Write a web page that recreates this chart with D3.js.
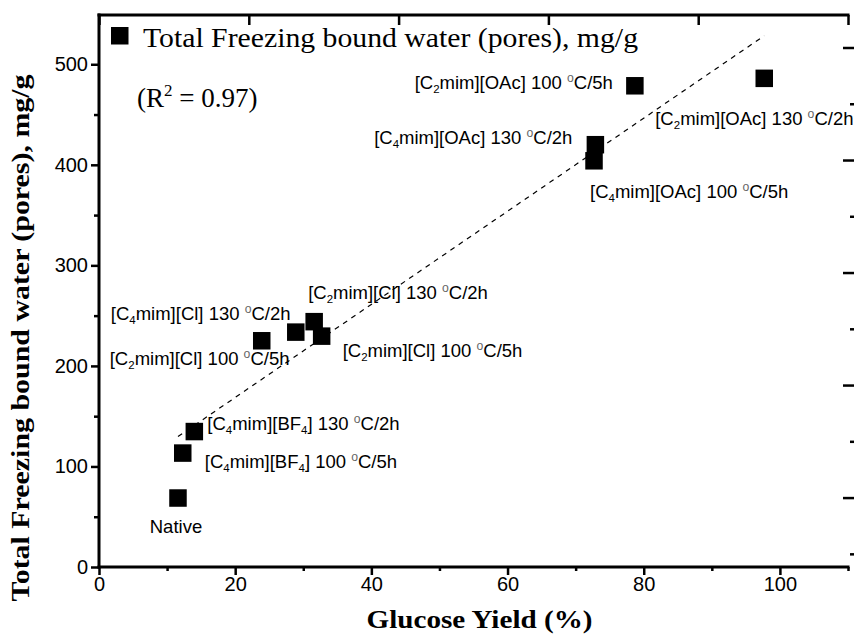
<!DOCTYPE html>
<html>
<head>
<meta charset="utf-8">
<script src="https://cdn.jsdelivr.net/npm/d3@7"></script>
<style>
  body { margin: 0; background: #fff; }
</style>
</head>
<body>
<svg id="chart" width="854" height="635"></svg>
<script>
// Values
var samples = [
    "Native",
    "[C_4mim][BF_4] 100 ^oC/5h",
    "[C_4mim][BF_4] 130 ^oC/2h",
    "[C_2mim][Cl] 100 ^oC/5h",
    "[C_4mim][Cl] 130 ^oC/2h",
    "[C_2mim][Cl] 130 ^oC/2h",
    "[C_2mim][Cl] 100 ^oC/5h",
    "[C_4mim][OAc] 100 ^oC/5h",
    "[C_4mim][OAc] 130 ^oC/2h",
    "[C_2mim][OAc] 100 ^oC/5h",
    "[C_2mim][OAc] 130 ^oC/2h"
];
var glucoseYield = [11.6, 12.3, 14.0, 23.9, 28.9, 31.6, 32.7, 72.7, 72.9, 78.7, 97.7];
var boundWater = [68.6, 113.3, 134.7, 225, 233.6, 244, 229.6, 404, 420, 478.6, 486];

// linear fit drawn in the figure (R^2 = 0.97)
var fitIntercept = 76;
var fitSlope = 4.63;

var xTicks = [0, 20, 40, 60, 80, 100];
var xMinorTicks = [10, 30, 50, 70, 90, 110];
var yTicks = [0, 100, 200, 300, 400, 500];
var yMinorTicks = [50, 150, 250, 350, 450];
var topTicks = [0, 10, 20, 30, 40, 50];
var rightTicks = [10, 20, 30, 40, 50, 60, 70, 80, 90, 100];

var legendText = "Total Freezing bound water (pores), mg/g";
var xTitle = "Glucose Yield (%)";
var yTitle = "Total Freezing bound water (pores), mg/g";

// label placement relative to each point (px)
var labelLayout = [
    { dx: -2, dy: 35, anchor: "middle" },
    { dx: 22, dy: 15, anchor: "start" },
    { dx: 13, dy: -2, anchor: "start" },
    { dx: -152, dy: 24, anchor: "start" },
    { dx: -185, dy: -12, anchor: "start" },
    { dx: -6, dy: -23, anchor: "start" },
    { dx: 21, dy: 21, anchor: "start" },
    { dx: -4, dy: 37, anchor: "start" },
    { dx: -23, dy: -1, anchor: "end" },
    { dx: -22, dy: 3, anchor: "end" },
    { dx: -109, dy: 47, anchor: "start" }
];

var sans = "'Liberation Sans', Arial, sans-serif";
var serif = "'Liberation Serif', 'Times New Roman', serif";

var svg = d3.select("#chart");
var plotLeft = 99, plotRight = 848, plotTop = 15, plotBottom = 567;

var x = d3.scaleLinear().domain([0, 110]).range([plotLeft, plotRight]);
var y = d3.scaleLinear().domain([0, 549]).range([plotBottom, plotTop]);
// secondary axes of the original figure (labels cropped off)
var xTop = d3.scaleLinear().domain([0, 50]).range([plotLeft, plotRight]);
var yRight = d3.scaleLinear().domain([0, 100]).range([610.6, 48]);

var points = glucoseYield.map(function (d, i) {
    return { x: d, y: boundWater[i], name: samples[i], layout: labelLayout[i] };
});

// regression line
var fitX = d3.extent(glucoseYield);
svg.append("line")
    .attr("x1", x(fitX[0]))
    .attr("y1", y(fitIntercept + fitSlope * fitX[0]))
    .attr("x2", x(fitX[1]))
    .attr("y2", y(fitIntercept + fitSlope * fitX[1]))
    .attr("stroke", "#000")
    .attr("stroke-width", 1.2)
    .attr("stroke-dasharray", "5,5");

function styleAxis(g) {
    g.select(".domain").remove();
    g.attr("font-family", sans).attr("font-size", 20);
    g.selectAll(".tick line").attr("stroke", "#000").attr("stroke-width", 2.5);
    g.selectAll(".tick text").attr("fill", "#000");
}

// left axis
svg.append("g")
    .attr("transform", "translate(" + plotLeft + ",0)")
    .call(d3.axisLeft(y).tickValues(yTicks).tickSize(8).tickPadding(3))
    .call(styleAxis);
svg.append("g")
    .attr("transform", "translate(" + plotLeft + ",0)")
    .call(d3.axisLeft(y).tickValues(yMinorTicks).tickSize(5).tickFormat(""))
    .call(styleAxis);

// bottom axis
svg.append("g")
    .attr("transform", "translate(0," + plotBottom + ")")
    .call(d3.axisBottom(x).tickValues(xTicks).tickSize(8).tickPadding(2))
    .call(styleAxis);
svg.append("g")
    .attr("transform", "translate(0," + plotBottom + ")")
    .call(d3.axisBottom(x).tickValues(xMinorTicks).tickSize(4).tickFormat(""))
    .call(styleAxis);

// top ticks (pointing inward)
svg.append("g")
    .attr("transform", "translate(0," + plotTop + ")")
    .call(d3.axisBottom(xTop).tickValues(topTicks).tickSize(10).tickFormat(""))
    .call(styleAxis);

// right ticks (no spine visible)
svg.append("g").selectAll("line")
    .data(rightTicks)
    .enter()
    .append("line")
    .attr("x1", function (d) { return d % 20 === 0 ? plotRight - 5 : plotRight + 2; })
    .attr("x2", plotRight + 6)
    .attr("y1", function (d) { return yRight(d); })
    .attr("y2", function (d) { return yRight(d); })
    .attr("stroke", "#000")
    .attr("stroke-width", 2.5);

// frame lines
svg.append("line")
    .attr("x1", plotLeft).attr("x2", plotLeft)
    .attr("y1", plotTop - 1.5).attr("y2", plotBottom + 1.5)
    .attr("stroke", "#000").attr("stroke-width", 3);
svg.append("line")
    .attr("x1", plotLeft - 1.5).attr("x2", plotRight + 1.5)
    .attr("y1", plotBottom).attr("y2", plotBottom)
    .attr("stroke", "#000").attr("stroke-width", 3);
svg.append("line")
    .attr("x1", plotLeft - 1.5).attr("x2", plotRight + 1.5)
    .attr("y1", plotTop).attr("y2", plotTop)
    .attr("stroke", "#000").attr("stroke-width", 3);

// points
var size = 17.5;
svg.append("g").selectAll("rect")
    .data(points)
    .enter()
    .append("rect")
    .attr("x", function (d) { return x(d.x) - size / 2; })
    .attr("y", function (d) { return y(d.y) - size / 2; })
    .attr("width", size)
    .attr("height", size)
    .attr("fill", "#000");

// labels with sub/superscripts: "_c" = subscript char, "^o" = degree circle
function richText(sel, str, fs) {
    var parts = str.split(/(_.|\^.)/).filter(function (s) { return s.length; });
    var shift = 0;
    parts.forEach(function (p) {
        var t = sel.append("tspan");
        if (p[0] === "_") {
            t.text(p[1]).attr("font-size", fs * 0.62 + "px").attr("dy", 4 - shift);
            shift = 4;
        } else if (p[0] === "^") {
            t.text(p[1]).attr("font-size", fs * 0.66 + "px").attr("dy", -7 - shift)
                .attr("fill", "#666");
            shift = -7;
        } else {
            t.text(p).attr("dy", -shift);
            shift = 0;
        }
    });
}

svg.append("g").selectAll("text")
    .data(points)
    .enter()
    .append("text")
    .attr("x", function (d) { return x(d.x) + d.layout.dx; })
    .attr("y", function (d) { return y(d.y) + d.layout.dy; })
    .attr("text-anchor", function (d) { return d.layout.anchor; })
    .attr("font-family", sans)
    .attr("font-size", "18.5px")
    .attr("fill", "#000")
    .each(function (d) { richText(d3.select(this), d.name, 18.5); });

// legend
svg.append("rect")
    .attr("x", 111).attr("y", 27)
    .attr("width", size).attr("height", size)
    .attr("fill", "#000");
svg.append("text")
    .attr("x", 143).attr("y", 47)
    .attr("font-family", serif)
    .attr("font-size", "27px")
    .attr("textLength", 495)
    .attr("lengthAdjust", "spacingAndGlyphs")
    .text(legendText);

var r2 = svg.append("text")
    .attr("x", 137).attr("y", 107)
    .attr("font-family", serif)
    .attr("font-size", "27px");
r2.append("tspan").text("(R");
r2.append("tspan").text("2").attr("font-size", "17px").attr("dy", -11);
r2.append("tspan").text(" = 0.97)").attr("dy", 11);

// axis titles
svg.append("text")
    .attr("x", (plotLeft + plotRight) / 2 + 6).attr("y", 628)
    .attr("text-anchor", "middle")
    .attr("font-family", serif)
    .attr("font-weight", "bold")
    .attr("font-size", "26px")
    .attr("textLength", 226)
    .attr("lengthAdjust", "spacingAndGlyphs")
    .text(xTitle);

svg.append("text")
    .attr("transform", "translate(29,338) rotate(-90)")
    .attr("text-anchor", "middle")
    .attr("font-family", serif)
    .attr("font-weight", "bold")
    .attr("font-size", "26px")
    .attr("textLength", 527)
    .attr("lengthAdjust", "spacingAndGlyphs")
    .text(yTitle);
</script>
</body>
</html>
